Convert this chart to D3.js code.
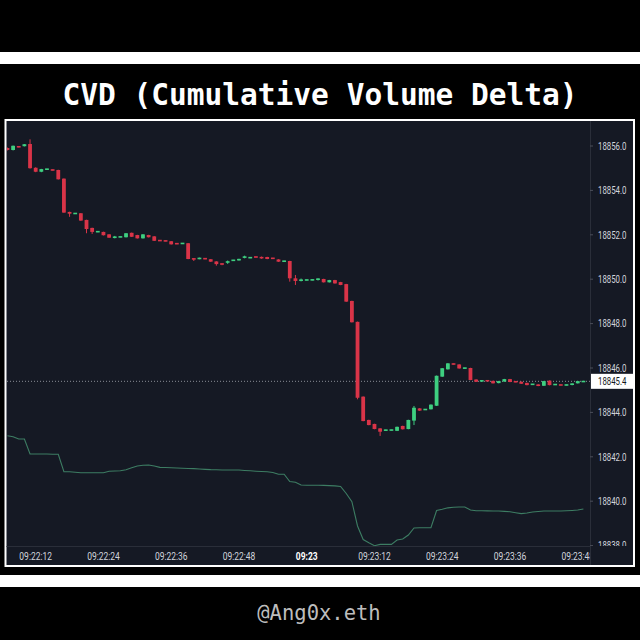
<!DOCTYPE html>
<html>
<head>
<meta charset="utf-8">
<script src="https://cdn.jsdelivr.net/npm/d3@7/dist/d3.min.js"></script>
<style>
  html, body { margin: 0; padding: 0; background: #000; }
  svg { display: block; }
</style>
</head>
<body>
<svg id="chart" width="640" height="640"></svg>
<script>
// ---------------- DATA ----------------
const titleText = "CVD (Cumulative Volume Delta)";
const watermarkText = "@Ang0x.eth";
const candleStart = "09:22:07";        // first 1-second candle
const candleOpen = [
  18855.91,18855.82,18855.98,18855.99,18856.09,18855.02,18854.84,18854.95,18854.93,18854.92,
  18854.53,18853.03,18852.95,18852.97,18852.67,18852.31,18852.13,18852.13,18852.02,18851.88,
  18851.90,18851.89,18852.09,18851.99,18851.84,18851.99,18851.93,18851.75,18851.73,18851.71,
  18851.61,18851.60,18851.62,18850.93,18850.91,18850.94,18850.90,18850.80,18850.70,18850.76,
  18850.84,18850.85,18850.98,18850.96,18851.01,18850.98,18851.00,18850.95,18850.89,18850.80,
  18850.82,18850.04,18849.94,18849.96,18849.96,18849.99,18850.01,18849.86,18849.96,18849.87,
  18849.78,18849.02,18848.08,18844.71,18843.66,18843.48,18843.28,18843.19,18843.20,18843.17,
  18843.39,18843.25,18843.63,18844.18,18844.12,18844.14,18844.30,18845.61,18845.94,18846.19,
  18846.16,18845.99,18846.00,18845.48,18845.41,18845.43,18845.42,18845.32,18845.39,18845.50,
  18845.39,18845.38,18845.33,18845.26,18845.26,18845.20,18845.43,18845.25,18845.24,18845.23,
  18845.25,18845.31,18845.38
];
const candleHigh = [
  18855.93,18856.02,18856.00,18856.09,18856.30,18855.04,18854.97,18854.97,18854.94,18854.93,
  18854.54,18853.04,18852.98,18852.98,18852.68,18852.32,18852.16,18852.14,18852.03,18851.95,
  18851.92,18852.08,18852.10,18852.00,18852.03,18852.00,18851.94,18851.76,18851.74,18851.72,
  18851.62,18851.63,18851.63,18850.94,18850.97,18850.95,18850.91,18850.81,18850.72,18850.84,
  18850.87,18850.92,18851.06,18850.99,18851.02,18851.02,18851.01,18850.96,18850.90,18850.83,
  18850.83,18850.19,18850.03,18849.98,18849.99,18850.04,18850.02,18849.97,18849.97,18849.88,
  18849.79,18849.03,18848.09,18844.72,18843.67,18843.49,18843.29,18843.22,18843.22,18843.36,
  18843.40,18843.67,18844.29,18844.19,18844.15,18844.36,18845.66,18846.00,18846.22,18846.20,
  18846.17,18846.01,18846.01,18845.49,18845.45,18845.44,18845.43,18845.42,18845.51,18845.51,
  18845.40,18845.39,18845.34,18845.28,18845.27,18845.42,18845.44,18845.27,18845.25,18845.25,
  18845.31,18845.42,18845.41
];
const candleLow = [
  18855.80,18855.80,18855.94,18855.98,18854.98,18854.82,18854.82,18854.94,18854.90,18854.49,
  18852.99,18852.81,18852.94,18852.63,18852.07,18852.04,18852.12,18851.97,18851.86,18851.84,
  18851.89,18851.88,18851.90,18851.83,18851.83,18851.88,18851.72,18851.72,18851.71,18851.56,
  18851.58,18851.59,18850.90,18850.82,18850.90,18850.90,18850.78,18850.61,18850.63,18850.69,
  18850.83,18850.84,18850.94,18850.95,18850.98,18850.92,18850.90,18850.92,18850.78,18850.79,
  18849.89,18849.74,18849.90,18849.95,18849.95,18849.94,18849.85,18849.85,18849.80,18849.73,
  18848.98,18848.05,18844.59,18843.60,18843.42,18843.24,18842.94,18843.18,18843.19,18843.16,
  18843.23,18843.24,18843.43,18844.07,18844.11,18844.13,18844.29,18845.60,18845.93,18846.16,
  18845.97,18845.98,18845.45,18845.37,18845.39,18845.41,18845.30,18845.31,18845.38,18845.36,
  18845.36,18845.28,18845.22,18845.25,18845.18,18845.19,18845.22,18845.24,18845.22,18845.22,
  18845.22,18845.30,18845.37
];
const candleClose = [
  18855.82,18856.01,18855.95,18856.08,18855.00,18854.84,18854.96,18854.96,18854.91,18854.50,
  18853.00,18852.95,18852.97,18852.64,18852.26,18852.13,18852.15,18851.98,18851.87,18851.90,
  18851.91,18852.07,18851.91,18851.84,18852.02,18851.89,18851.73,18851.73,18851.72,18851.57,
  18851.59,18851.62,18850.91,18850.90,18850.96,18850.91,18850.79,18850.68,18850.67,18850.79,
  18850.86,18850.91,18851.01,18850.98,18850.99,18850.96,18850.91,18850.93,18850.79,18850.82,
  18850.04,18849.92,18849.97,18849.97,18849.98,18850.01,18849.86,18849.96,18849.81,18849.74,
  18848.99,18848.06,18844.66,18843.61,18843.43,18843.25,18843.13,18843.21,18843.21,18843.35,
  18843.24,18843.66,18844.21,18844.08,18844.14,18844.35,18845.65,18845.99,18846.21,18846.17,
  18845.98,18846.00,18845.46,18845.38,18845.43,18845.42,18845.31,18845.41,18845.50,18845.37,
  18845.37,18845.29,18845.23,18845.27,18845.19,18845.41,18845.23,18845.26,18845.23,18845.24,
  18845.29,18845.41,18845.40
];
// Cumulative volume delta, one value per candle (overlay scale, arbitrary units)
const cvdValues = [
  100.3,99.4,97.3,97.3,83.6,83.6,83.6,83.6,83.4,83.4,
  67.5,67.5,67.0,66.6,66.6,66.6,66.6,66.6,68.0,68.2,
  68.4,69.3,71.1,72.7,73.4,73.6,72.7,71.5,71.4,71.1,
  70.9,70.7,70.5,70.3,70.0,69.7,69.4,69.3,69.1,69.1,
  69.1,69.1,68.7,68.4,68.0,67.7,67.5,66.8,65.2,65.2,
  58.6,57.9,55.5,55.2,55.2,55.2,55.1,54.9,54.7,54.1,
  47.7,40.3,18.2,5.9,3.0,0.3,1.5,1.5,1.5,5.5,
  6.4,10.0,16.4,16.6,16.6,16.6,32.3,33.4,34.7,35.2,
  35.5,35.5,32.7,32.1,32.0,31.9,31.8,31.8,31.5,31.2,
  30.3,29.4,30.0,30.9,31.4,31.8,31.8,31.8,31.8,32.0,
  32.3,32.7,33.6
];
const priceTicks = [18838,18840,18842,18844,18846,18848,18850,18852,18854,18856];
const timeTicks = ["09:22:12","09:22:24","09:22:36","09:22:48","09:23:00","09:23:12","09:23:24","09:23:36","09:23:48"];
const lastPrice = 18845.4;

// ---------------- HELPERS ----------------
const parseT = d3.timeParse("%H:%M:%S");
const t0 = parseT(candleStart);
const candles = candleOpen.map((o, i) => ({
  time: new Date(t0.getTime() + i * 1000),
  o, h: candleHigh[i], l: candleLow[i], c: candleClose[i], cvd: cvdValues[i]
}));

// ---------------- LAYOUT ----------------
const svg = d3.select("#chart");
const W = 640, H = 640;
const plot = { left: 7, right: 590, top: 122, bottom: 546 };
const chartBox = { left: 6.5, right: 633, top: 121, bottom: 565 };

svg.append("rect").attr("width", W).attr("height", H).attr("fill", "#000");
// top white band
svg.append("rect").attr("x", 0).attr("y", 52).attr("width", W).attr("height", 12).attr("fill", "#fff");
// bottom white band
svg.append("rect").attr("x", 0).attr("y", 575).attr("width", W).attr("height", 12).attr("fill", "#fff");

// title
svg.append("text")
  .attr("x", 320).attr("y", 105)
  .attr("text-anchor", "middle")
  .attr("font-family", "'DejaVu Sans Mono', 'Liberation Mono', monospace")
  .attr("font-weight", "bold")
  .attr("font-size", 29.5)
  .attr("fill", "#fff")
  .text(titleText);

// watermark
svg.append("text")
  .attr("x", 319).attr("y", 620)
  .attr("text-anchor", "middle")
  .attr("font-family", "'DejaVu Sans Mono', 'Liberation Mono', monospace")
  .attr("font-size", 20.5)
  .attr("fill", "#bdbdbd")
  .text(watermarkText);

// chart frame
svg.append("rect")
  .attr("x", chartBox.left - 2).attr("y", chartBox.top - 2)
  .attr("width", chartBox.right - chartBox.left + 4).attr("height", chartBox.bottom - chartBox.top + 4)
  .attr("fill", "#fff");
svg.append("rect")
  .attr("x", chartBox.left).attr("y", chartBox.top)
  .attr("width", chartBox.right - chartBox.left).attr("height", chartBox.bottom - chartBox.top)
  .attr("fill", "#151924");

// ---------------- SCALES ----------------
const x = d3.scaleTime()
  .domain([new Date(t0.getTime() - 80), new Date(candles[candles.length - 1].time.getTime() + 1170)])
  .range([plot.left, plot.right]);
const y = d3.scaleLinear().domain([18838, 18856]).range([545.6, 146]);
const cvdY = d3.scaleLinear().domain([0, 100]).range([546, 436]);

const defs = svg.append("defs");
defs.append("clipPath").attr("id", "plotClip").append("rect")
  .attr("x", plot.left).attr("y", plot.top)
  .attr("width", plot.right - plot.left).attr("height", plot.bottom - plot.top);
defs.append("clipPath").attr("id", "timeClip").append("rect")
  .attr("x", plot.left).attr("y", plot.bottom)
  .attr("width", plot.right - plot.left).attr("height", chartBox.bottom - plot.bottom);
defs.append("clipPath").attr("id", "priceClip").append("rect")
  .attr("x", plot.right).attr("y", plot.top)
  .attr("width", chartBox.right - plot.right).attr("height", plot.bottom - plot.top);

// axis separators
svg.append("line")
  .attr("x1", plot.right + 0.5).attr("x2", plot.right + 0.5)
  .attr("y1", chartBox.top).attr("y2", chartBox.bottom)
  .attr("stroke", "#2a2e39").attr("stroke-width", 1);
svg.append("line")
  .attr("x1", chartBox.left).attr("x2", plot.right)
  .attr("y1", plot.bottom + 0.5).attr("y2", plot.bottom + 0.5)
  .attr("stroke", "#2a2e39").attr("stroke-width", 1);

// ---------------- MARKS ----------------
const gPlot = svg.append("g").attr("clip-path", "url(#plotClip)");

// last price dotted line
gPlot.append("line")
  .attr("x1", plot.left).attr("x2", plot.right)
  .attr("y1", y(lastPrice)).attr("y2", y(lastPrice))
  .attr("stroke", "#8a8d96").attr("stroke-width", 1)
  .attr("stroke-dasharray", "1,2");

// CVD line
gPlot.append("path")
  .datum(candles)
  .attr("fill", "none")
  .attr("stroke", "#3d7d63")
  .attr("stroke-width", 1.1)
  .attr("d", d3.line().x(d => x(d.time)).y(d => cvdY(d.cvd)));

// candles
const UP = "#3ecf80", DOWN = "#d93448";
const bodyW = 3.8;
const cg = gPlot.selectAll("g.candle").data(candles).join("g").attr("class", "candle");
cg.append("line")
  .attr("x1", d => x(d.time)).attr("x2", d => x(d.time))
  .attr("y1", d => y(d.h)).attr("y2", d => y(d.l))
  .attr("stroke", d => d.c >= d.o ? UP : DOWN).attr("stroke-width", 1);
cg.append("rect")
  .attr("x", d => x(d.time) - bodyW / 2)
  .attr("width", bodyW)
  .attr("y", d => Math.min(y(d.o), y(d.c)) - (Math.abs(y(d.o) - y(d.c)) < 1.6 ? (1.6 - Math.abs(y(d.o) - y(d.c))) / 2 : 0))
  .attr("height", d => Math.max(1.6, Math.abs(y(d.o) - y(d.c))))
  .attr("fill", d => d.c >= d.o ? UP : DOWN);

// ---------------- AXES ----------------
const gPrice = svg.append("g").attr("clip-path", "url(#priceClip)");
const pt = gPrice.selectAll("g.ptick").data(priceTicks).join("g")
  .attr("class", "ptick")
  .attr("transform", d => `translate(${plot.right},${y(d)})`);
pt.append("line").attr("x1", 0).attr("x2", 3).attr("stroke", "#4a4e59");
pt.append("text")
  .attr("transform", "translate(8,0) scale(0.74,1)")
  .attr("dy", "0.36em")
  .attr("font-family", "Roboto, 'Noto Sans', sans-serif")
  .attr("font-size", 10.6)
  .attr("fill", "#d1d4dc")
  .text(d => d3.format(".1f")(d));

// last price label
const lp = svg.append("g").attr("transform", `translate(${plot.right},${y(lastPrice)})`);
lp.append("rect").attr("x", 1).attr("y", -7.5).attr("width", chartBox.right - plot.right - 1).attr("height", 15).attr("fill", "#fff");
lp.append("text")
  .attr("transform", "translate(8,0) scale(0.74,1)")
  .attr("dy", "0.36em")
  .attr("font-family", "Roboto, 'Noto Sans', sans-serif")
  .attr("font-size", 10.6)
  .attr("fill", "#131722")
  .text(d3.format(".1f")(lastPrice));

// time axis
const gTime = svg.append("g").attr("clip-path", "url(#timeClip)");
const tt = gTime.selectAll("g.ttick").data(timeTicks.map(s => parseT(s))).join("g")
  .attr("class", "ttick")
  .attr("transform", d => `translate(${x(d)},${556.5})`);
tt.append("text")
  .attr("transform", "scale(0.8,1)")
  .attr("dy", "0.36em")
  .attr("text-anchor", "middle")
  .attr("font-family", "Roboto, 'Noto Sans', sans-serif")
  .attr("font-size", 10.6)
  .attr("font-weight", d => d.getSeconds() === 0 ? "bold" : "normal")
  .attr("fill", d => d.getSeconds() === 0 ? "#ffffff" : "#d1d4dc")
  .text(d => d.getSeconds() === 0 ? d3.timeFormat("%H:%M")(d) : d3.timeFormat("%H:%M:%S")(d));
</script>
</body>
</html>
